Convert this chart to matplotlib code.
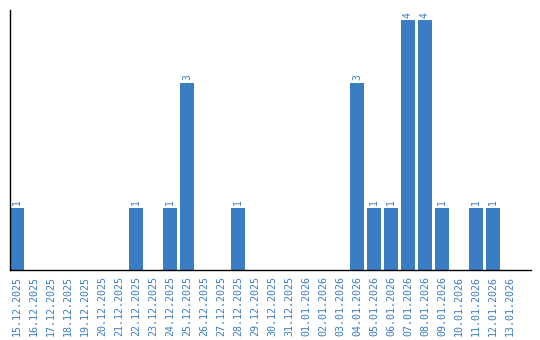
import datetime as dt
import matplotlib
matplotlib.use('Agg')
import matplotlib.pyplot as plt

start = dt.date(2025, 12, 15)
days = [start + dt.timedelta(days=i) for i in range(30)]
labels = [d.strftime('%d.%m.%Y') for d in days]
counts = [1, 0, 0, 0, 0, 0, 0, 1, 0, 1, 3, 0, 0, 1, 0,
          0, 0, 0, 0, 0, 3, 1, 1, 4, 4, 1, 0, 1, 1, 0]

blue = '#3b7dc2'

fig = plt.figure(figsize=(5.4, 3.4), dpi=100)
ax = fig.add_axes([10 / 540, 70 / 340, 521 / 540, 260 / 340])

x = range(len(counts))
ax.bar(x, counts, width=14 / 17, color=blue)
for i, c in enumerate(counts):
    if c:
        ax.text(i, c + 0.04, str(c), rotation=90, ha='center', va='bottom',
                color=blue, fontsize=7, family='DejaVu Sans Mono')

ax.set_xlim(-7 / 17, 30.24)
ax.set_ylim(0, 4.16)
ax.set_xticks(list(x))
ax.set_xticklabels(labels, rotation=90, color=blue, fontsize=7.2,
                   family='DejaVu Sans Mono')
ax.tick_params(axis='x', length=0, pad=4.5)
ax.set_yticks([])
ax.spines['top'].set_visible(False)
ax.spines['right'].set_visible(False)
ax.spines['left'].set_linewidth(1)
ax.spines['bottom'].set_linewidth(1)

fig.savefig('out.png', dpi=100)
